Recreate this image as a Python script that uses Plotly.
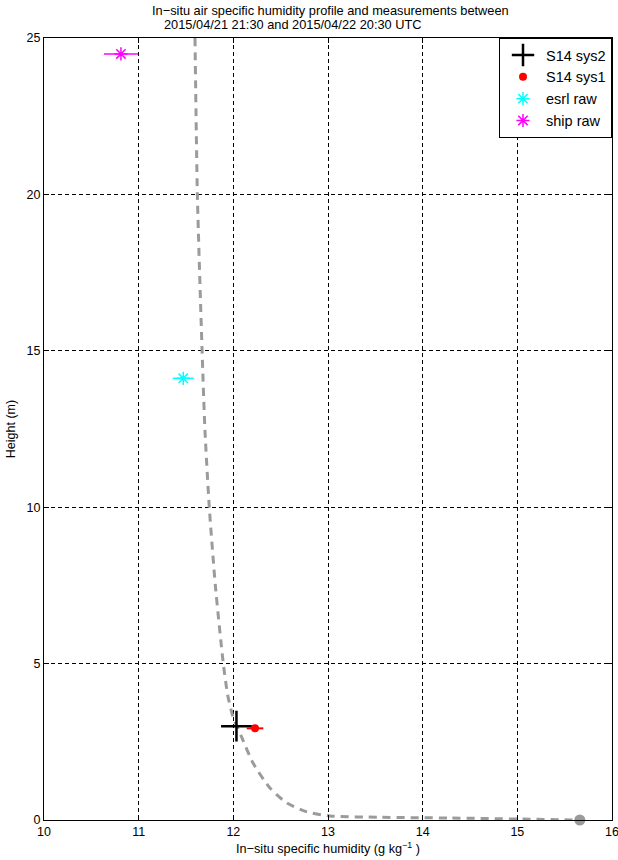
import plotly.graph_objects as go

# Profile curve
profile_q = [11.595, 11.62, 11.67, 11.70, 11.746, 11.81, 11.894, 11.94, 11.997, 12.088,
             12.208, 12.387, 12.567, 12.778, 13.021, 13.55, 14.29, 15.03, 15.66]
profile_z = [25.0, 20.0, 15.0, 12.47, 10.0, 7.5, 5.0, 4.0, 3.29, 2.65,
             1.82, 1.02, 0.54, 0.26, 0.13, 0.086, 0.064, 0.03, 0.0]

surface_q = [15.66]
surface_z = [0.0]

sys2_q = [12.033]
sys2_z = [3.0]

sys1_q = [12.229]
sys1_z = [2.93]
sys1_err = [0.088]

esrl_q = [11.471]
esrl_z = [14.12]
esrl_err = [0.111]

ship_q = [10.813]
ship_z = [24.49]
ship_err = [0.18]

x_ticks = [10, 11, 12, 13, 14, 15, 16]
y_ticks = [0, 5, 10, 15, 20, 25]

FONT = "Liberation Sans, Arial, Helvetica, sans-serif"

fig = go.Figure()

fig.add_trace(go.Scatter(
    x=profile_q, y=profile_z, mode="lines", showlegend=False,
    line=dict(color="rgb(155,155,155)", width=3, dash="8px,6px", shape="spline", smoothing=0.6),
    hoverinfo="skip"))

fig.add_trace(go.Scatter(
    x=surface_q, y=surface_z, mode="markers", showlegend=False, cliponaxis=False,
    marker=dict(color="rgb(155,155,155)", size=11, symbol="circle")))

fig.add_trace(go.Scatter(
    x=sys2_q, y=sys2_z, mode="markers", name="S14 sys2", cliponaxis=False,
    marker=dict(symbol="cross-thin", size=22, line=dict(color="black", width=2.5), color="black")))

fig.add_trace(go.Scatter(
    x=sys1_q, y=sys1_z, mode="markers", name="S14 sys1",
    error_x=dict(type="data", array=sys1_err, color="red", thickness=2, width=0),
    marker=dict(symbol="circle", size=8, color="red")))

fig.add_trace(go.Scatter(
    x=esrl_q, y=esrl_z, mode="markers", name="esrl raw",
    error_x=dict(type="data", array=esrl_err, color="cyan", thickness=1.5, width=0),
    marker=dict(symbol="asterisk-open", size=11, color="cyan", line=dict(color="cyan", width=1.5))))

fig.add_trace(go.Scatter(
    x=ship_q, y=ship_z, mode="markers", name="ship raw",
    error_x=dict(type="data", array=ship_err, color="magenta", thickness=1.5, width=0),
    marker=dict(symbol="asterisk-open", size=11, color="magenta", line=dict(color="magenta", width=1.5))))

axis_common = dict(
    showline=True, linecolor="black", linewidth=1, mirror="ticks",
    ticks="inside", ticklen=5, tickcolor="black",
    showgrid=True, gridcolor="black", gridwidth=1, griddash="4px,3px",
    zeroline=False, tickfont=dict(family=FONT, size=12.5, color="black"),
    automargin=False, ticklabeloverflow="allow",
)

fig.update_xaxes(range=[10, 16], tickvals=x_ticks, **axis_common,
                 title=dict(text="In−situ specific humidity (g kg<sup>−1</sup> )",
                            font=dict(family=FONT, size=12.7, color="black"), standoff=6))
fig.update_yaxes(range=[0, 25], tickvals=y_ticks, **axis_common,
                 title=dict(text="Height (m)", font=dict(family=FONT, size=12.5, color="black"), standoff=8))

fig.add_annotation(text="In−situ air specific humidity profile and measurements between",
                   xref="paper", yref="paper", x=(150 - 44) / 568, y=1 + (38 - 10) / 782,
                   xanchor="left", yanchor="middle", showarrow=False,
                   font=dict(family=FONT, size=12.8, color="black"))
fig.add_annotation(text="2015/04/21 21:30 and 2015/04/22 20:30 UTC",
                   xref="paper", yref="paper", x=(162 - 44) / 568, y=1 + (38 - 25) / 782,
                   xanchor="left", yanchor="middle", showarrow=False,
                   font=dict(family=FONT, size=12.8, color="black"))

fig.update_layout(
    width=618, height=860,
    margin=dict(l=44, r=6, t=38, b=40, autoexpand=False),
    paper_bgcolor="white", plot_bgcolor="white",
    font=dict(family=FONT, size=12, color="black"),
    legend=dict(x=1, y=1, xanchor="right", yanchor="top",
                bordercolor="black", borderwidth=1, bgcolor="white",
                font=dict(family=FONT, size=14.5, color="black"),
                itemsizing="trace", itemwidth=36, tracegroupgap=0),
)

fig.write_html("out.html",
               config={"displayModeBar": False},
               post_script="document.body.style.margin='0px';document.body.style.overflow='hidden';")
